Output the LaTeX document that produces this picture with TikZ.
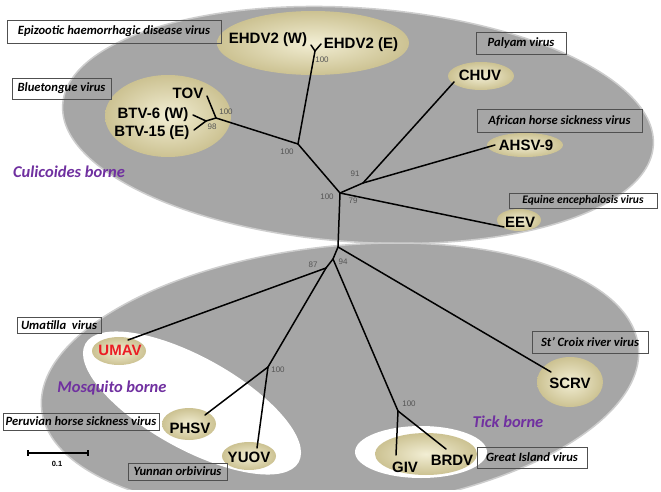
\documentclass[tikz,border=0pt]{standalone}
\usepackage{fontspec}
\setmainfont{Liberation Sans}
\newfontfamily\calfont{Carlito}
\newfontfamily\boldsans{Liberation Sans Bold}
\usetikzlibrary{shapes.geometric}
\definecolor{grayfill}{RGB}{166,166,166}
\definecolor{grayrim}{RGB}{205,205,205}
\definecolor{beigein}{RGB}{242,238,212}
\definecolor{beigeout}{RGB}{204,194,146}
\definecolor{purp}{RGB}{112,48,160}
\definecolor{boxline}{RGB}{80,80,80}
\definecolor{numgray}{RGB}{85,85,85}
\definecolor{umavred}{RGB}{235,28,36}
\tikzset{
  branch/.style={line width=1.5pt, black, line cap=round, line join=round},
  virus/.style={font=\boldsans\fontsize{15}{15}\selectfont, inner sep=0pt},
  boot/.style={font=\fontsize{8}{8}\selectfont, text=numgray, inner sep=0pt},
  tag/.style={draw=boxline, line width=0.8pt, inner sep=0pt,
    font=\calfont\fontsize{12.6}{12.6}\selectfont\bfseries\itshape},
  group/.style={font=\calfont\fontsize{16.5}{16.5}\selectfont\bfseries\itshape, text=purp, inner sep=0pt},
  beige/.style={inner color=beigein, outer color=beigeout},
  region/.style={fill=grayfill, draw=grayrim, line width=1.5pt},
  hole/.style={fill=white}
}
\begin{document}
\begin{tikzpicture}[x=1pt,y=-1pt]
\useasboundingbox (0,0) rectangle (661,492);
\fill[white] (0,0) rectangle (661,492);
% regions
\begin{scope}
\clip (0,0) rectangle (661,489);
\path[region, rotate around={-4:(358,125)}] (358,125) ellipse [x radius=296, y radius=117];
\path[region, rotate around={6:(340,378)}] (340,378) ellipse [x radius=300, y radius=132];
\end{scope}
\path[hole, rotate around={-29:(192,403)}] (192,403) ellipse [x radius=122, y radius=46];
\path[hole] (421,452) ellipse [x radius=66, y radius=26];
% beige clusters
\shade[beige] (313,43) ellipse [x radius=96, y radius=32];
\shade[beige] (168,116) ellipse [x radius=63, y radius=41];
\shade[beige] (481,76) ellipse [x radius=33, y radius=14];
\shade[beige] (525,145) ellipse [x radius=38, y radius=12];
\shade[beige] (519,220) ellipse [x radius=22, y radius=11];
\shade[beige] (119,351) ellipse [x radius=27, y radius=14];
\shade[beige] (189,424) ellipse [x radius=27, y radius=16];
\shade[beige] (249,456) ellipse [x radius=27, y radius=14];
\shade[beige] (570,382) ellipse [x radius=33, y radius=25];
\shade[beige] (426,454) ellipse [x radius=51, y radius=21];
% tree coordinates
\coordinate (C) at (340,193);
\coordinate (B) at (298,144);
\coordinate (K) at (315,51);
\coordinate (kW) at (311,45);
\coordinate (kE) at (321,44);
\coordinate (G) at (216,118);
\coordinate (tov) at (207,96);
\coordinate (H) at (206,121);
\coordinate (btv6) at (193,115);
\coordinate (btv15) at (194,130);
\coordinate (A) at (363,183);
\coordinate (chuv) at (454,82);
\coordinate (ahsv) at (495,145);
\coordinate (eev) at (504,227);
\coordinate (D) at (338,247);
\coordinate (scrv) at (551,372);
\coordinate (E) at (333,259);
\coordinate (F) at (326,268);
\coordinate (umav) at (128,340);
\coordinate (M) at (268,367);
\coordinate (phsv) at (205,415);
\coordinate (yuov) at (257,448);
\coordinate (T) at (398,411);
\coordinate (giv) at (396,455);
\coordinate (brdv) at (446,449);
% branches
\draw[branch] (C) -- (B);
\draw[branch] (B) -- (K);
\draw[branch] (K) -- (kW);
\draw[branch] (K) -- (kE);
\draw[branch] (B) -- (G);
\draw[branch] (G) -- (tov);
\draw[branch] (G) -- (H);
\draw[branch] (H) -- (btv6);
\draw[branch] (H) -- (btv15);
\draw[branch] (C) -- (A);
\draw[branch] (A) -- (chuv);
\draw[branch] (A) -- (ahsv);
\draw[branch] (C) -- (eev);
\draw[branch] (C) -- (D);
\draw[branch] (D) -- (scrv);
\draw[branch] (D) -- (E);
\draw[branch] (E) -- (F);
\draw[branch] (F) -- (umav);
\draw[branch] (F) -- (M);
\draw[branch] (M) -- (phsv);
\draw[branch] (M) -- (yuov);
\draw[branch] (E) -- (T);
\draw[branch] (T) -- (giv);
\draw[branch] (T) -- (brdv);
% virus names
\node[virus] (nEW) at (268,40) {EHDV2 (W)};
\node[virus] (nEE) at (361,45) {EHDV2 (E)};
\node[virus] (nTOV) at (188,93) {TOV};
\node[virus] (nB6) at (153,115) {BTV-6 (W)};
\node[virus] (nB15) at (152,133) {BTV-15 (E)};
\node[virus] (nCHUV) at (480,75) {CHUV};
\node[virus] (nAHSV) at (526,145) {AHSV-9};
\node[virus] (nEEV) at (520,222) {EEV};
\node[virus, text=umavred] (nUMAV) at (120,350) {UMAV};
\node[virus] (nPHSV) at (190,428) {PHSV};
\node[virus] (nYUOV) at (249,457) {YUOV};
\node[virus] (nSCRV) at (570,383) {SCRV};
\node[virus] (nGIV) at (405,467) {GIV};
\node[virus] (nBRDV) at (452,460) {BRDV};
% bootstrap values
\node[boot] (b1) at (322,60) {100};
\node[boot] (b2) at (226,112) {100};
\node[boot] (b3) at (212,127) {98};
\node[boot] (b4) at (287,152) {100};
\node[boot] (b5) at (327,197) {100};
\node[boot] (b6) at (355,174) {91};
\node[boot] (b7) at (353,201) {79};
\node[boot] (b8) at (313,265) {87};
\node[boot] (b9) at (343,262) {94};
\node[boot] (b10) at (278,370) {100};
\node[boot] (b11) at (409,404) {100};
% tag boxes
\node[tag, minimum width=214pt, minimum height=23pt] (t1) at (114,31.5) {Epizootic haemorrhagic disease virus};
\node[tag, minimum width=99pt, minimum height=21pt] (t2) at (61.5,88.5) {Bluetongue virus};
\node[tag, minimum width=90pt, minimum height=22pt] (t3) at (521,43) {Palyam virus};
\node[tag, minimum width=165pt, minimum height=23pt] (t4) at (559.5,120.5) {African horse sickness virus};
\node[tag, minimum width=148pt, minimum height=15pt, font=\calfont\fontsize{11.5}{11.5}\selectfont\bfseries\itshape] (t5) at (583,200.5) {Equine encephalosis virus};
\node[tag, minimum width=84pt, minimum height=16pt] (t6) at (59,325.5) {Umatilla\ \ virus};
\node[tag, minimum width=156pt, minimum height=17pt] (t7) at (81,421.5) {Peruvian horse sickness virus};
\node[tag, minimum width=99pt, minimum height=17pt] (t8) at (177.5,471.5) {Yunnan orbivirus};
\node[tag, minimum width=116pt, minimum height=22pt] (t9) at (590,342) {St’ Croix river virus};
\node[tag, minimum width=110pt, minimum height=21pt] (t10) at (532,457.5) {Great Island virus};
% group labels
\node[group] (g1) at (69,172) {Culicoides borne};
\node[group] (g2) at (112,388) {Mosquito borne};
\node[group] (g3) at (508,422) {Tick borne};
% scale bar
\coordinate (s1) at (28,453);
\coordinate (s2) at (88,453);
\draw[line width=1.2pt] (s1) -- (s2);
\draw[line width=1.2pt] ([yshift=3pt]s1) -- ([yshift=-3pt]s1);
\draw[line width=1.2pt] ([yshift=3pt]s2) -- ([yshift=-3pt]s2);
\node[font=\boldsans\fontsize{7.5}{7.5}\selectfont, inner sep=0pt] (sl) at (57,463.5) {0.1};
\end{tikzpicture}
\end{document}
